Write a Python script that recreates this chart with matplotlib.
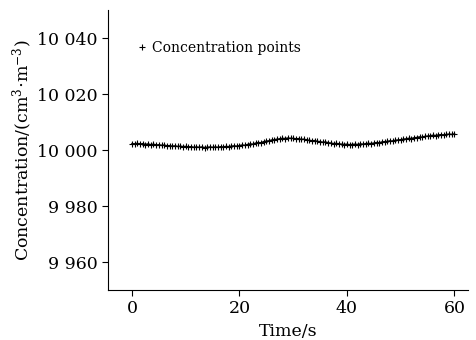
import numpy as np
import matplotlib
matplotlib.use("Agg")
import matplotlib.pyplot as plt
from matplotlib.lines import Line2D
from matplotlib.ticker import FuncFormatter

plt.rcParams["font.family"] = "DejaVu Serif"
plt.rcParams["mathtext.fontset"] = "dejavuserif"

# concentration samples, every 0.5 s from 0 to 60 s
conc = [
    10002.3, 10002.2, 10002.4, 10002.1, 10002.3, 10002.0, 10002.2, 10001.9, 10002.1, 10001.8,
    10001.9, 10001.7, 10001.8, 10001.5, 10001.6, 10001.4, 10001.5, 10001.3, 10001.4, 10001.2,
    10001.3, 10001.1, 10001.2, 10001.0, 10001.1, 10001.0, 10001.1, 10000.9, 10001.0, 10001.1,
    10001.0, 10001.1, 10001.0, 10001.2, 10001.1, 10001.3, 10001.2, 10001.4, 10001.5, 10001.4,
    10001.6, 10001.8, 10001.7, 10002.0, 10002.2, 10002.1, 10002.5, 10002.7, 10002.6, 10003.0,
    10003.2, 10003.3, 10003.6, 10003.7, 10003.9, 10004.0, 10004.2, 10004.1, 10004.3, 10004.2,
    10004.2, 10004.0, 10004.1, 10003.8, 10003.9, 10003.6, 10003.5, 10003.3, 10003.4, 10003.1,
    10003.0, 10002.8, 10002.9, 10002.6, 10002.5, 10002.3, 10002.4, 10002.2, 10002.1, 10002.0,
    10002.1, 10001.9, 10002.0, 10002.1, 10002.0, 10002.2, 10002.1, 10002.3, 10002.4, 10002.3,
    10002.5, 10002.7, 10002.6, 10002.9, 10003.0, 10003.1, 10003.3, 10003.2, 10003.5, 10003.6,
    10003.7, 10003.9, 10004.0, 10004.2, 10004.1, 10004.4, 10004.5, 10004.7, 10004.6, 10004.9,
    10005.0, 10005.1, 10005.3, 10005.2, 10005.4, 10005.5, 10005.4, 10005.6, 10005.7, 10005.6,
    10005.8,
]
time = np.arange(len(conc)) * 0.5

x_ticks = [0, 20, 40, 60]
y_ticks = [9960, 9980, 10000, 10020, 10040]

fig = plt.figure(figsize=(4.77, 3.4), dpi=100)
ax = fig.add_axes([0.226, 0.147, 0.755, 0.823])

ax.plot(time, conc, color="black", linewidth=1.1, marker="+", markersize=4.5,
        markeredgewidth=0.8)

ax.set_xlim(-4.5, 62.5)
ax.set_ylim(9950, 10050)
ax.set_xticks(x_ticks)
ax.set_yticks(y_ticks)

# thousands separated by a space, e.g. "10 040"
ax.yaxis.set_major_formatter(FuncFormatter(lambda v, p: f"{int(v):,}".replace(",", " ")))

ax.spines["top"].set_visible(False)
ax.spines["right"].set_visible(False)
ax.tick_params(direction="out", length=4, labelsize=12.5)

ax.set_xlabel("Time/s", fontsize=12.5)
ax.set_ylabel(r"Concentration/(cm$^{3}$$\cdot$m$^{-3}$)", fontsize=12.5, labelpad=1)

# legend shows just the "+" marker
handle = Line2D([], [], color="black", linestyle="none", marker="+",
                markersize=5, markeredgewidth=0.8)
ax.legend([handle], ["Concentration points"], loc="upper left", frameon=False,
          fontsize=10, handlelength=0.6, handletextpad=0.4,
          bbox_to_anchor=(0.05, 0.935))

fig.savefig("out.png", dpi=100)
